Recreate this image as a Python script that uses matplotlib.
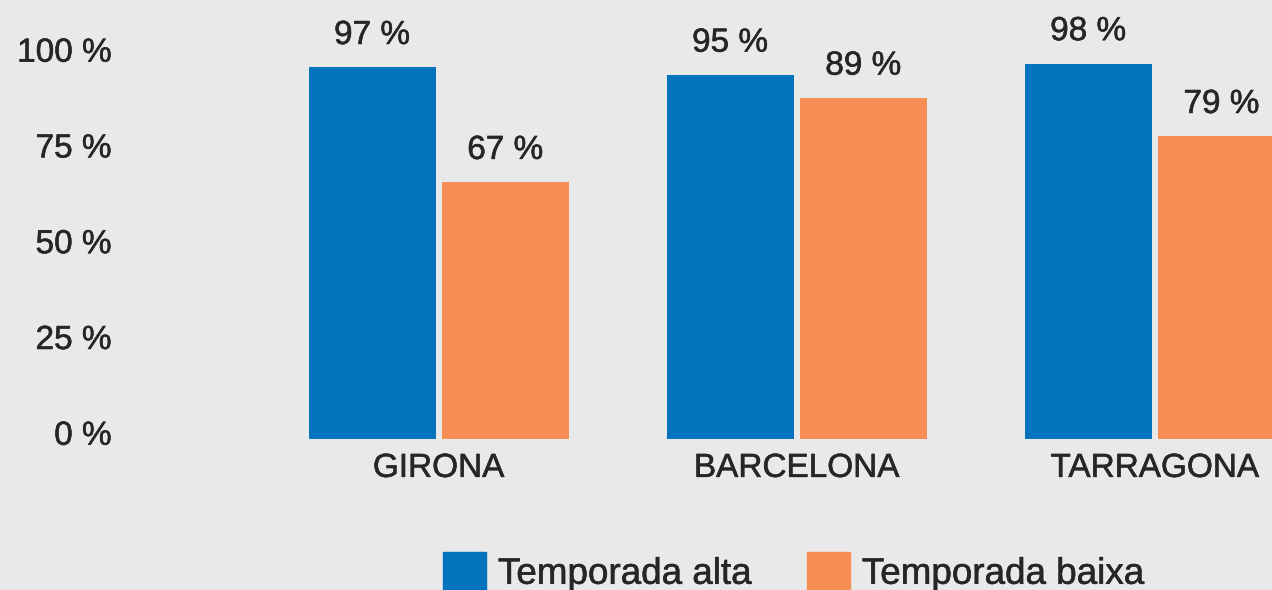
import matplotlib
matplotlib.use("Agg")
import matplotlib.pyplot as plt
import matplotlib.transforms as mtransforms
import matplotlib.patheffects as pe
from matplotlib.patches import Patch
import numpy as np

# data
cities = ["GIRONA", "BARCELONA", "TARRAGONA"]
alta = [97, 95, 98]
baixa = [67, 89, 79]
series_names = ["Temporada alta", "Temporada baixa"]
yticks = [0, 25, 50, 75, 100]

blue = "#0473bd"
orange = "#f68e56"
bg = "#e9e9e9"
txt = "#262626"

plt.rcParams['font.family'] = ['Liberation Sans', 'DejaVu Sans']

# slightly heavier strokes, the original face is a medium weight
heavy = [pe.withStroke(linewidth=0.4, foreground=txt)]

fig = plt.figure(figsize=(12.72, 5.9), dpi=100, facecolor=bg)
ax = fig.add_axes([120 / 1272, 151 / 590, 1 - 120 / 1272, 1 - 151 / 590])
ax.set_facecolor(bg)

x = np.arange(len(cities))
w = 0.355
off = 0.186
b1 = ax.bar(x - off, alta, w, color=blue)
b2 = ax.bar(x + off, baixa, w, color=orange)

for bars, vals in [(b1, alta), (b2, baixa)]:
    for r, v in zip(bars, vals):
        ax.annotate(f"{v} %", (r.get_x() + r.get_width() / 2, r.get_height()),
                    xytext=(0, 23), textcoords="offset points",
                    ha="center", va="center", fontsize=24, color=txt,
                    path_effects=heavy)

ax.set_xlim(-0.89, 2.327)
ax.set_ylim(0, 114.6)
ax.set_xticks(x)
ax.set_xticklabels(cities, fontsize=24, color=txt)
ax.set_yticks(yticks)
ax.set_yticklabels([f"{t} %" for t in yticks], fontsize=24, color=txt)
ax.tick_params(axis="both", length=0)
ax.tick_params(axis="y", pad=6)
ax.tick_params(axis="x", pad=10)
for s in ax.spines.values():
    s.set_visible(False)

shift = mtransforms.ScaledTranslation(0, 4.5 / 72, fig.dpi_scale_trans)
for lab in ax.get_yticklabels():
    lab.set_transform(lab.get_transform() + shift)
for lab in ax.get_yticklabels() + ax.get_xticklabels():
    lab.set_path_effects(heavy)

handles = [Patch(color=blue), Patch(color=orange)]
leg = fig.legend(handles, series_names, loc="center", bbox_to_anchor=(793 / 1272, 18 / 590),
                 ncol=2, frameon=False, fontsize=26.5, handlelength=1.17, handleheight=1.22,
                 handletextpad=0.33, columnspacing=1.52, labelcolor=txt)
for t in leg.get_texts():
    t.set_path_effects(heavy)

fig.savefig("out.png", dpi=100, facecolor=bg)
